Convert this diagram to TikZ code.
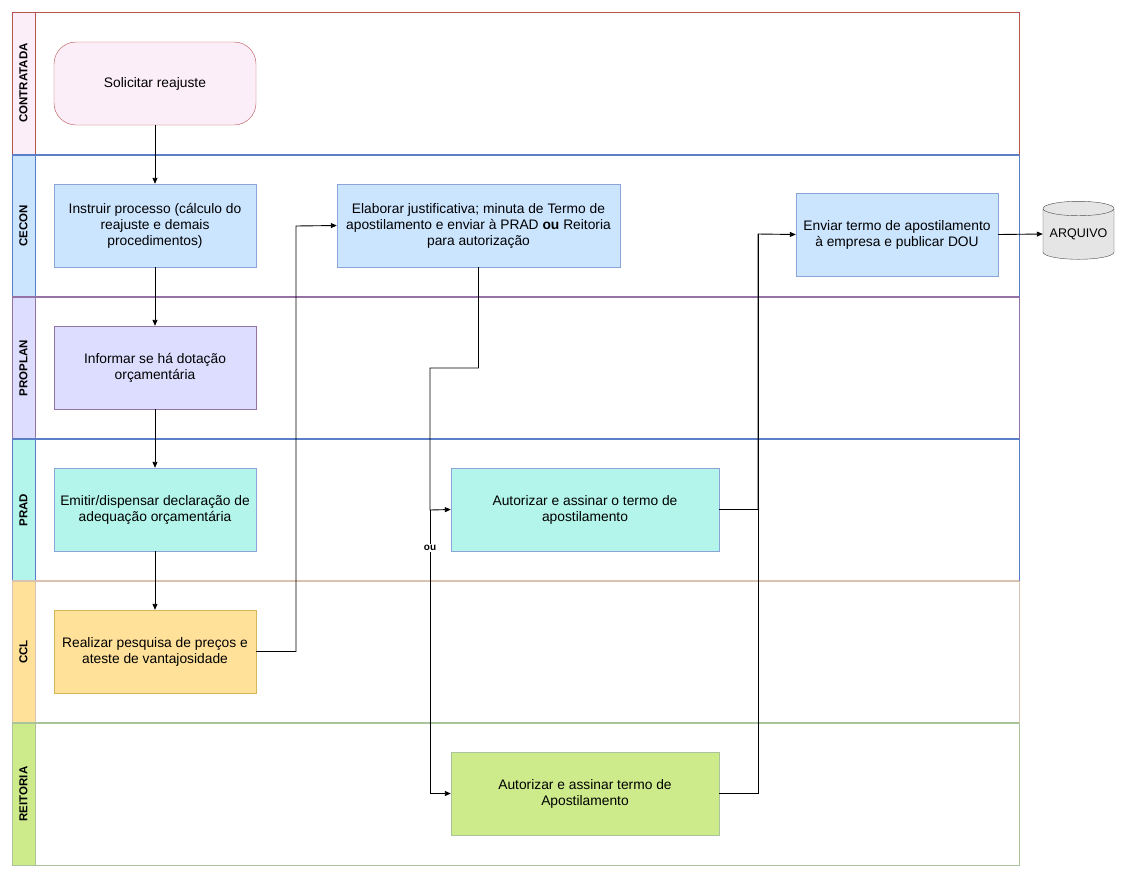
\documentclass[tikz,border=0pt]{standalone}
\usepackage{fontspec}
\setmainfont{Liberation Sans}
\usepackage{tikz}
\usetikzlibrary{arrows.meta,shapes.geometric}
\definecolor{pinkF}{HTML}{FCEEF9}
\definecolor{redD}{HTML}{B85450}
\definecolor{blueF}{HTML}{CCE5FF}
\definecolor{blueD}{HTML}{5A7FC8}
\definecolor{lilaF}{HTML}{DDDDFF}
\definecolor{lilaD}{HTML}{9673A6}
\definecolor{mintF}{HTML}{B3F5EA}
\definecolor{yelF}{HTML}{FFE199}
\definecolor{yelD}{HTML}{D6B656}
\definecolor{tanD}{HTML}{D9C2B0}
\definecolor{greenF}{HTML}{CDEB8B}
\definecolor{greenD}{HTML}{A9C49A}
\begin{document}
\begin{tikzpicture}[x=1pt,y=-1pt,>={Triangle[length=6pt,width=5pt]},
  every node/.style={font=\fontsize{13.8}{16}\selectfont},
  task/.style={draw=blueD!70,fill=blueF,minimum width=202pt,minimum height=83pt,align=center,inner sep=2pt},
  flow/.style={->,line width=0.9pt},
  lanetitle/.style={rotate=90,font=\fontsize{11.5}{13}\selectfont\bfseries}]
 \useasboundingbox (0,0) rectangle (1139,879);
 \fill[white] (0,0) rectangle (1139,879);
 % raias
 \foreach \y/\nm/\fc/\dc [count=\i] in {12/CONTRATADA/pinkF/redD, 155/CECON/blueF/blueD,
    297/PROPLAN/lilaF/lilaD, 439/PRAD/mintF/blueD, 581/CCL/yelF/tanD, 723/REITORIA/greenF/greenD}{
   \draw[draw=\dc,fill=\fc,line width=1pt] (12,\y) rectangle (35,\y+142);
   \draw[draw=\dc,line width=1pt] (35,\y) rectangle (1019,\y+142);
   \node[lanetitle] (lane\i) at (23.5,\y+71) {\nm};
 }
 \foreach \y/\dc in {155/blueD, 297/lilaD, 439/blueD, 581/tanD, 723/greenD}
   \draw[draw=\dc,line width=1.2pt] (12,\y) -- (1019,\y);
 % tarefas
 \node[task,draw=redD,fill=pinkF,rounded corners=22pt] (sol) at (155,83.5) {Solicitar reajuste};
 \node[task] (ins) at (155,225.5) {Instruir processo (cálculo do\\reajuste e demais\\procedimentos)};
 \node[task,draw=lilaD,fill=lilaF] (inf) at (155,367.5) {Informar se há dotação\\orçamentária};
 \node[task,fill=mintF] (emi) at (155,509.5) {Emitir/dispensar declaração de\\adequação orçamentária};
 \node[task,draw=yelD,fill=yelF] (rea) at (155,651.5) {Realizar pesquisa de preços e\\ateste de vantajosidade};
 \node[task,minimum width=283pt] (ela) at (478.5,225.5) {Elaborar justificativa; minuta de Termo de\\apostilamento e enviar à PRAD \textbf{ou} Reitoria\\para autorização};
 \node[task] (env) at (897,234.5) {Enviar termo de apostilamento\\à empresa e publicar DOU};
 \node[task,fill=mintF,minimum width=268pt] (aprad) at (585,509.5) {Autorizar e assinar o termo de\\apostilamento};
 \node[task,draw=greenD,fill=greenF,minimum width=268pt] (arei) at (585,793.5) {Autorizar e assinar termo de\\Apostilamento};
 \node[cylinder,shape border rotate=90,aspect=0.25,draw=black!70,fill=black!10,
   minimum width=71pt,minimum height=58pt,inner sep=0pt,font=\fontsize{12.5}{14}\selectfont] (arq) at (1078.5,234) {ARQUIVO};
 % conexoes
 \draw[flow] (sol) -- (ins);
 \draw[flow] (ins) -- (inf);
 \draw[flow] (inf) -- (emi);
 \draw[flow] (emi) -- (rea);
 \draw[flow] (rea.east) -| (296,226) -- (ela.west);
 \draw[flow] (ela.south) -- (478.5,368) -| (430,510) -- (aprad.west);
 \draw[flow] (430,510) |- (arei.west);
 \node[fill=white,inner sep=1pt,font=\fontsize{10}{11}\selectfont\bfseries] (ou) at (430,548) {ou};
 \draw[flow] (aprad.east) -| (758,234) -- (env.west);
 \draw[line width=0.9pt] (arei.east) -| (758,234);
 \draw[flow] (env.east) -- (arq.west);
\end{tikzpicture}
\end{document}
